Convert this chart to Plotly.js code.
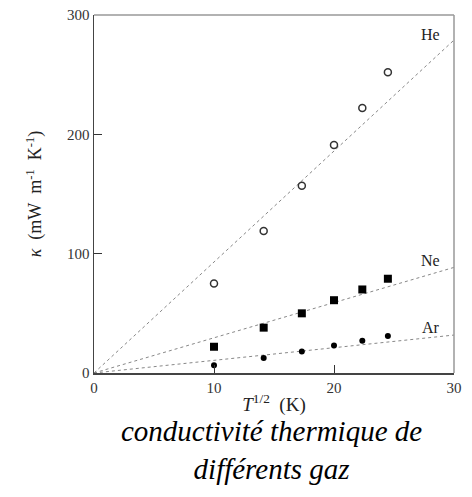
<!DOCTYPE html>
<html>
<head>
<meta charset="utf-8">
<script src="https://cdn.plot.ly/plotly-3.0.1.min.js"></script>
<style>html,body{margin:0;padding:0;background:#fff;}#chart{width:472px;height:497px;}</style>
</head>
<body>
<div id="chart"></div>
<script>
// Data
var sqrtT = [10, 14.14, 17.32, 20, 22.36, 24.49];
var heValues = [75, 119, 157, 191, 222, 252];
var neValues = [22, 38, 50, 61, 70, 79];
var arValues = [6.5, 12.5, 18, 23, 27, 31];
var fitX = [0, 30];
var heFit = [0, 279];
var neFit = [0, 88.5];
var arFit = [0, 31.8];
var gasLabels = ['He', 'Ne', 'Ar'];
var labelX = [29, 29, 29];
var labelY = [284, 94, 38];

var font = 'Liberation Serif';
var lineStyle = {color: '#888', width: 1, dash: 'dot'};
var traces = [
  {x: fitX, y: heFit, mode: 'lines', line: lineStyle, hoverinfo: 'skip'},
  {x: fitX, y: neFit, mode: 'lines', line: lineStyle, hoverinfo: 'skip'},
  {x: fitX, y: arFit, mode: 'lines', line: lineStyle, hoverinfo: 'skip'},
  {x: sqrtT, y: heValues, mode: 'markers', marker: {symbol: 'circle-open', size: 7, color: '#333', line: {width: 1.5, color: '#333'}}},
  {x: sqrtT, y: neValues, mode: 'markers', marker: {symbol: 'square', size: 8, color: '#000'}},
  {x: sqrtT, y: arValues, mode: 'markers', marker: {symbol: 'circle', size: 6, color: '#000'}}
];

var annotations = gasLabels.map(function(t, i){
  return {x: labelX[i], y: labelY[i], xref: 'x', yref: 'y', text: t, showarrow: false,
    xanchor: 'right', yanchor: 'middle', font: {family: font, size: 16, color: '#222'}};
});
annotations.push({x: 0.494, y: -0.214, xref: 'paper', yref: 'paper', yanchor: 'middle', xanchor: 'center', showarrow: false,
  text: '<i>conductivité thermique de<br>différents gaz</i>',
  font: {family: font, size: 29, color: '#000'}});

var layout = {
  width: 472, height: 497,
  margin: {l: 94, r: 18, t: 15, b: 124},
  paper_bgcolor: '#fff', plot_bgcolor: '#fff',
  showlegend: false,
  font: {family: font, color: '#222'},
  xaxis: {range: [0, 30], tickvals: [0, 10, 20, 30], ticks: 'inside', ticklen: 8, tickcolor: '#333',
    showline: true, linecolor: '#444', linewidth: 1.5, showgrid: false, zeroline: false,
    tickfont: {family: font, size: 15, color: '#333'},
    title: {text: '<i>T</i><sup>1/2</sup>\u00a0\u00a0(K)', font: {family: font, size: 19, color: '#222'}, standoff: 3}},
  yaxis: {range: [0, 300], tickvals: [0, 100, 200, 300], ticks: 'inside', ticklen: 8, tickcolor: '#333',
    showline: true, linecolor: '#444', linewidth: 1.5, showgrid: false, zeroline: false,
    tickfont: {family: font, size: 15, color: '#333'},
    title: {text: '<i>κ</i>\u00a0\u00a0(mW\u00a0\u00a0m<sup>-1</sup>\u00a0\u00a0K<sup>-1</sup>)', font: {family: font, size: 18, color: '#222'}, standoff: 20}},
  shapes: [
    {type: 'line', xref: 'paper', yref: 'paper', x0: 0, x1: 1, y0: 1, y1: 1, line: {color: '#999', width: 1.5}},
    {type: 'line', xref: 'paper', yref: 'paper', x0: 1, x1: 1, y0: 0, y1: 1, line: {color: '#999', width: 1.5}}
  ],
  annotations: annotations
};
Plotly.newPlot('chart', traces, layout, {displayModeBar: false, staticPlot: true});
</script>
</body>
</html>
